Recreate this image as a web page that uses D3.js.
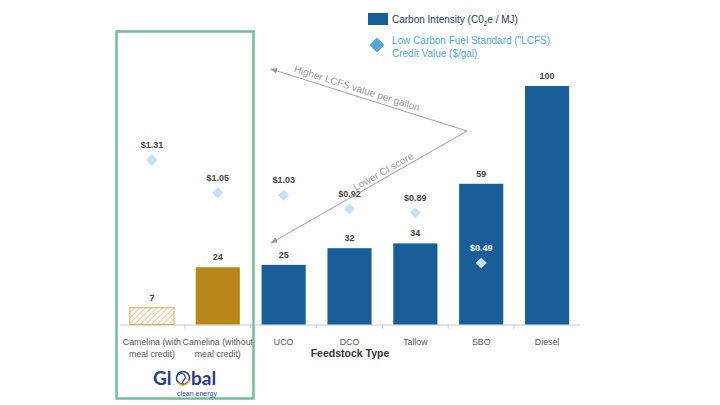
<!DOCTYPE html>
<html><head><meta charset="utf-8">
<script src="https://cdn.jsdelivr.net/npm/d3@7"></script>
<style>body{margin:0;background:#fff;}svg{display:block;font-family:"Liberation Sans",Arial,sans-serif;}</style>
</head><body>
<svg id="c" width="720" height="405"></svg>
<script>
const categories = ["Camelina (with|meal credit)","Camelina (without|meal credit)","UCO","DCO","Tallow","SBO","Diesel"];
const carbonIntensity = [7,24,25,32,34,59,100];
const lcfsValue = [1.31,1.05,1.03,0.92,0.89,0.49,null];
const lcfsLabels = ["$1.31","$1.05","$1.03","$0.92","$0.89","$0.49",null];
const barStyle = ["hatch","gold","blue","blue","blue","blue","blue"];

const svg = d3.select("#c");
const base = 324.5;
const x = d3.scaleBand().domain(categories).range([119,580]).paddingInner(0.33).paddingOuter(0.165);
const y = d3.scaleLinear().domain([0,100]).range([base,86]);
const y2 = d3.scaleLinear().domain([0,1.9]).range([base,86]);

const defs = svg.append("defs");
const pat = defs.append("pattern").attr("id","hatch").attr("patternUnits","userSpaceOnUse")
  .attr("width",4).attr("height",4).attr("patternTransform","rotate(45)");
pat.append("rect").attr("width",4).attr("height",4).attr("fill","#fff");
pat.append("line").attr("x1",0).attr("y1",0).attr("x2",0).attr("y2",4).attr("stroke","#d4a444").attr("stroke-width",1.2);

const fills = {hatch:"url(#hatch)", gold:"#b8871a", blue:"#1a5e99"};

// axis
const ax = svg.append("g").attr("transform",`translate(0,${base})`)
  .call(d3.axisBottom(x).tickSize(0).tickFormat(""));
ax.select(".domain").attr("stroke","#c8c8c8");
ax.selectAll(".tick").remove();
const step = x.step();
const bounds = categories.slice(1).map(c => x(c) - x.paddingInner()*step/2);
svg.selectAll(".btick").data(bounds).join("line")
  .attr("x1",d=>d).attr("x2",d=>d).attr("y1",base).attr("y2",base+4).attr("stroke","#c8c8c8");

// bars
svg.selectAll(".bar").data(categories).join("rect")
  .attr("x",d=>x(d)).attr("width",x.bandwidth())
  .attr("y",(d,i)=>y(carbonIntensity[i])).attr("height",(d,i)=>base-y(carbonIntensity[i]))
  .attr("fill",(d,i)=>fills[barStyle[i]])
  .attr("stroke",(d,i)=>barStyle[i]==="hatch"?"#d9a848":"none").attr("stroke-width",1);

svg.selectAll(".bl").data(categories).join("text")
  .attr("x",d=>x(d)+x.bandwidth()/2).attr("y",(d,i)=>y(carbonIntensity[i])-7)
  .attr("text-anchor","middle").attr("font-size",9).attr("font-weight","bold").attr("fill","#444")
  .text((d,i)=>carbonIntensity[i]);

// diamonds
const pts = categories.map((c,i)=>({c,v:lcfsValue[i],l:lcfsLabels[i],i})).filter(d=>d.v!=null);
svg.selectAll(".dm").data(pts).join("path")
  .attr("d",d3.symbol(d3.symbolSquare,62)())
  .attr("transform",d=>`translate(${x(d.c)+x.bandwidth()/2},${y2(d.v)}) rotate(45)`)
  .attr("fill","#c2e1f4");
svg.selectAll(".dl").data(pts).join("text")
  .attr("x",d=>x(d.c)+x.bandwidth()/2).attr("y",d=>y2(d.v)-12)
  .attr("text-anchor","middle").attr("font-size",9).attr("font-weight","bold")
  .attr("fill",d=>d.i===5?"#fff":"#444").text(d=>d.l);

// x labels
categories.forEach(c=>{
  const t = svg.append("text").attr("x",x(c)+x.bandwidth()/2).attr("y",345)
    .attr("text-anchor","middle").attr("font-size",8.8).attr("fill","#555");
  c.split("|").forEach((s,k)=>t.append("tspan").attr("x",x(c)+x.bandwidth()/2).attr("dy",k?11.5:0).text(s));
});
svg.append("text").attr("x",350).attr("y",357).attr("text-anchor","middle")
  .attr("font-size",10.5).attr("font-weight","bold").attr("fill","#333").text("Feedstock Type");

// arrows
const mk = defs.append("marker").attr("id","arr").attr("viewBox","0 0 10 10").attr("refX",9).attr("refY",5)
  .attr("markerWidth",7).attr("markerHeight",7).attr("orient","auto");
mk.append("path").attr("d","M0,1 L10,5 L0,9 Z").attr("fill","#9a9a9a");
const apex = [467,131];
[[271,69],[271,243]].forEach(p=>{
  svg.append("line").attr("x1",apex[0]).attr("y1",apex[1]).attr("x2",p[0]).attr("y2",p[1])
    .attr("stroke","#a0a0a0").attr("stroke-width",1).attr("marker-end","url(#arr)");
});
svg.append("text").attr("transform","translate(356,91.5) rotate(17.5)").attr("text-anchor","middle")
  .attr("font-size",10).attr("fill","#999").text("Higher LCFS value per gallon");
svg.append("text").attr("transform","translate(385,174.5) rotate(-29.6)").attr("text-anchor","middle")
  .attr("font-size",10).attr("fill","#999").text("Lower CI score");

// legend
svg.append("rect").attr("x",368).attr("y",13).attr("width",20).attr("height",12).attr("fill","#1a5e99");
svg.append("text").attr("x",392).attr("y",23).attr("font-size",10).attr("fill","#2a3a55")
  .html('Carbon Intensity (C0<tspan font-size="6.5" dy="3">2</tspan><tspan dy="-3">e / MJ)</tspan>');
svg.append("path").attr("d",d3.symbol(d3.symbolSquare,110)()).attr("transform","translate(377,45) rotate(45)").attr("fill","#4fa7dd");
svg.append("text").attr("x",392).attr("y",44).attr("font-size",10).attr("fill","#4fa7dd").text('Low Carbon Fuel Standard ("LCFS)');
svg.append("text").attr("x",392).attr("y",56.5).attr("font-size",10).attr("fill","#4fa7dd").text("Credit Value ($/gal)");

// green box
svg.append("rect").attr("x",116.5).attr("y",31.5).attr("width",137).attr("height",367)
  .attr("fill","none").attr("stroke","#6fc095").attr("stroke-width",2.5);

// logo
const lg = svg.append("g");
lg.append("text").attr("x",153).attr("y",385).attr("font-size",19).attr("font-weight","bold").attr("fill","#2c3a8f")
  .attr("font-family","Lato, 'Liberation Sans', sans-serif").text("Gl");
lg.append("circle").attr("cx",183).attr("cy",378).attr("r",6.5).attr("fill","#fff").attr("stroke","#2c3a8f").attr("stroke-width",1.5);
lg.append("path").attr("d","M178.5,375 q3,-3 6,0 q2,3 -1,5.5 q-2,2 0,3.5").attr("fill","none").attr("stroke","#2c3a8f").attr("stroke-width",1.2);
lg.append("path").attr("d","M177.5,382.5 a6.5,6.5 0 0 0 11.5,-2").attr("fill","none").attr("stroke","#e3b53c").attr("stroke-width",1.4);
lg.append("text").attr("x",191).attr("y",385).attr("font-size",19).attr("font-weight","bold").attr("fill","#2c3a8f")
  .attr("font-family","Lato, 'Liberation Sans', sans-serif").text("bal");
lg.append("text").attr("x",217).attr("y",396).attr("text-anchor","end").attr("font-size",7).attr("fill","#3a4aa0").text("clean energy");
</script>
</body></html>
